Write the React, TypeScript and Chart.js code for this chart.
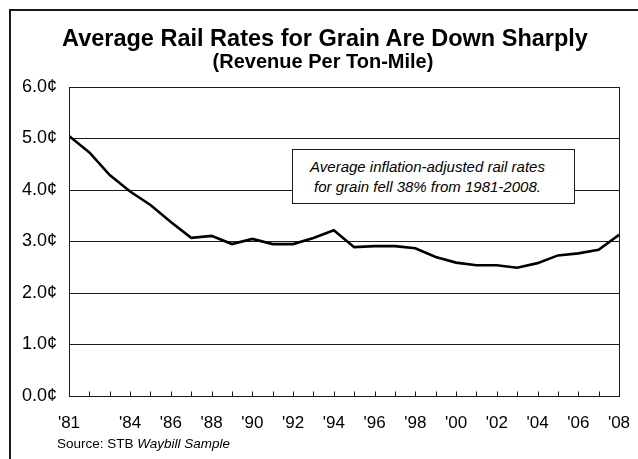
import React, { useEffect, useRef } from "react";
import { Chart, registerables } from "chart.js";

Chart.register(...registerables);

// Revenue per ton-mile (cents, inflation-adjusted), 1981-2008
const years = [
  1981, 1982, 1983, 1984, 1985, 1986, 1987, 1988, 1989, 1990, 1991, 1992, 1993, 1994,
  1995, 1996, 1997, 1998, 1999, 2000, 2001, 2002, 2003, 2004, 2005, 2006, 2007, 2008,
];
const rates = [
  5.05, 4.73, 4.29, 3.97, 3.71, 3.38, 3.07, 3.11, 2.95, 3.05, 2.95, 2.95, 3.07, 3.22,
  2.89, 2.91, 2.91, 2.87, 2.7, 2.59, 2.54, 2.54, 2.49, 2.58, 2.73, 2.77, 2.84, 3.13,
];
const yTicks = [0, 1, 2, 3, 4, 5, 6];
const labeledYears = [1981, 1984, 1986, 1988, 1990, 1992, 1994, 1996, 1998, 2000, 2002, 2004, 2006, 2008];

const titleText = "Average Rail Rates for Grain Are Down Sharply";
const subtitleText = "(Revenue Per Ton-Mile)";
const noteLines = ["Average inflation-adjusted rail rates", "for grain fell 38% from 1981-2008."];

const FONT = "'Liberation Sans', Arial, Helvetica, sans-serif";
const INK = "#000";
const RULE = "#1a1a1a";

// Plot frame plus short inward year ticks along the bottom axis
const frameAndTicks = {
  id: "frameAndTicks",
  afterDatasetsDraw(chart: any) {
    const { ctx, chartArea } = chart;
    const x = chart.scales.x;
    ctx.save();
    ctx.strokeStyle = RULE;
    ctx.lineWidth = 1;
    const l = Math.round(chartArea.left) + 0.5;
    const r = Math.round(chartArea.right) + 0.5;
    const t = Math.round(chartArea.top) + 0.5;
    const b = Math.round(chartArea.bottom) + 0.5;
    ctx.strokeRect(l, t, r - l, b - t);
    ctx.beginPath();
    years.forEach((yr) => {
      const px = Math.round(x.getPixelForValue(yr)) + 0.5;
      ctx.moveTo(px, b);
      ctx.lineTo(px, b - 5);
    });
    ctx.stroke();
    ctx.restore();
  },
};

function RateChart() {
  const ref = useRef<HTMLCanvasElement | null>(null);

  useEffect(() => {
    if (!ref.current) return;
    const chart = new Chart(ref.current, {
      type: "line",
      data: {
        datasets: [
          {
            data: years.map((yr, i) => ({ x: yr, y: rates[i] })),
            borderColor: INK,
            borderWidth: 2.6,
            pointRadius: 0,
            tension: 0,
            fill: false,
          },
        ],
      },
      options: {
        animation: false,
        responsive: false,
        events: [],
        layout: { padding: { top: 87, right: 19, left: 0, bottom: 0 } },
        plugins: { legend: { display: false }, tooltip: { enabled: false } },
        scales: {
          x: {
            type: "linear",
            min: 1981,
            max: 2008,
            afterBuildTicks: (s: any) => {
              s.ticks = years.map((v) => ({ value: v }));
            },
            afterFit: (s: any) => {
              s.height = 63;
              s.paddingLeft = 0;
              s.paddingRight = 0;
            },
            grid: { display: false },
            border: { display: false },
            ticks: {
              autoSkip: false,
              maxRotation: 0,
              padding: 9,
              color: INK,
              font: { family: FONT, size: 17 },
              callback: (v: any) => (labeledYears.includes(v) ? "'" + String(v).slice(2) : ""),
            },
          },
          y: {
            min: 0,
            max: 6,
            afterBuildTicks: (s: any) => {
              s.ticks = yTicks.map((v) => ({ value: v }));
            },
            afterFit: (s: any) => {
              s.width = 69;
            },
            grid: { color: RULE, lineWidth: 1, drawTicks: false },
            border: { display: false },
            ticks: {
              padding: 12,
              color: INK,
              font: { family: FONT, size: 18 },
              callback: (v: any) => Number(v).toFixed(1) + "\u00a2",
            },
          },
        },
      },
      plugins: [frameAndTicks],
    });
    return () => chart.destroy();
  }, []);

  return (
    <canvas
      ref={ref}
      width={638}
      height={459}
      style={{ position: "absolute", left: 0, top: 0, width: 638, height: 459 }}
    />
  );
}

export default function App() {
  return (
    <div
      style={{
        position: "fixed",
        left: 0,
        top: 0,
        width: 638,
        height: 459,
        overflow: "hidden",
        background: "#fff",
        fontFamily: FONT,
        color: INK,
      }}
    >
      <div
        style={{
          position: "absolute",
          left: 9,
          top: 9,
          width: 700,
          height: 470,
          borderLeft: `2px solid ${RULE}`,
          borderTop: `2px solid ${RULE}`,
        }}
      />
      <RateChart />
      <div
        style={{
          position: "absolute",
          left: 6,
          top: 24,
          width: 638,
          textAlign: "center",
          fontWeight: "bold",
          fontSize: 23.5,
          lineHeight: "28px",
          whiteSpace: "nowrap",
        }}
      >
        {titleText}
      </div>
      <div
        style={{
          position: "absolute",
          left: 4,
          top: 50,
          width: 638,
          textAlign: "center",
          fontWeight: "bold",
          fontSize: 20,
          lineHeight: "22px",
          whiteSpace: "nowrap",
        }}
      >
        {subtitleText}
      </div>
      <div
        style={{
          position: "absolute",
          left: 292,
          top: 149,
          width: 283,
          height: 55,
          boxSizing: "border-box",
          border: `1px solid ${RULE}`,
          background: "#fff",
          display: "flex",
          flexDirection: "column",
          justifyContent: "center",
          alignItems: "center",
          paddingRight: 12,
          fontStyle: "italic",
          fontSize: 15,
          lineHeight: "20px",
          whiteSpace: "nowrap",
        }}
      >
        {noteLines.map((line) => (
          <div key={line}>{line}</div>
        ))}
      </div>
      <div
        style={{
          position: "absolute",
          left: 57,
          top: 436,
          fontSize: 13.5,
          lineHeight: "15px",
          whiteSpace: "nowrap",
        }}
      >
        Source: STB <i>Waybill Sample</i>
      </div>
    </div>
  );
}
